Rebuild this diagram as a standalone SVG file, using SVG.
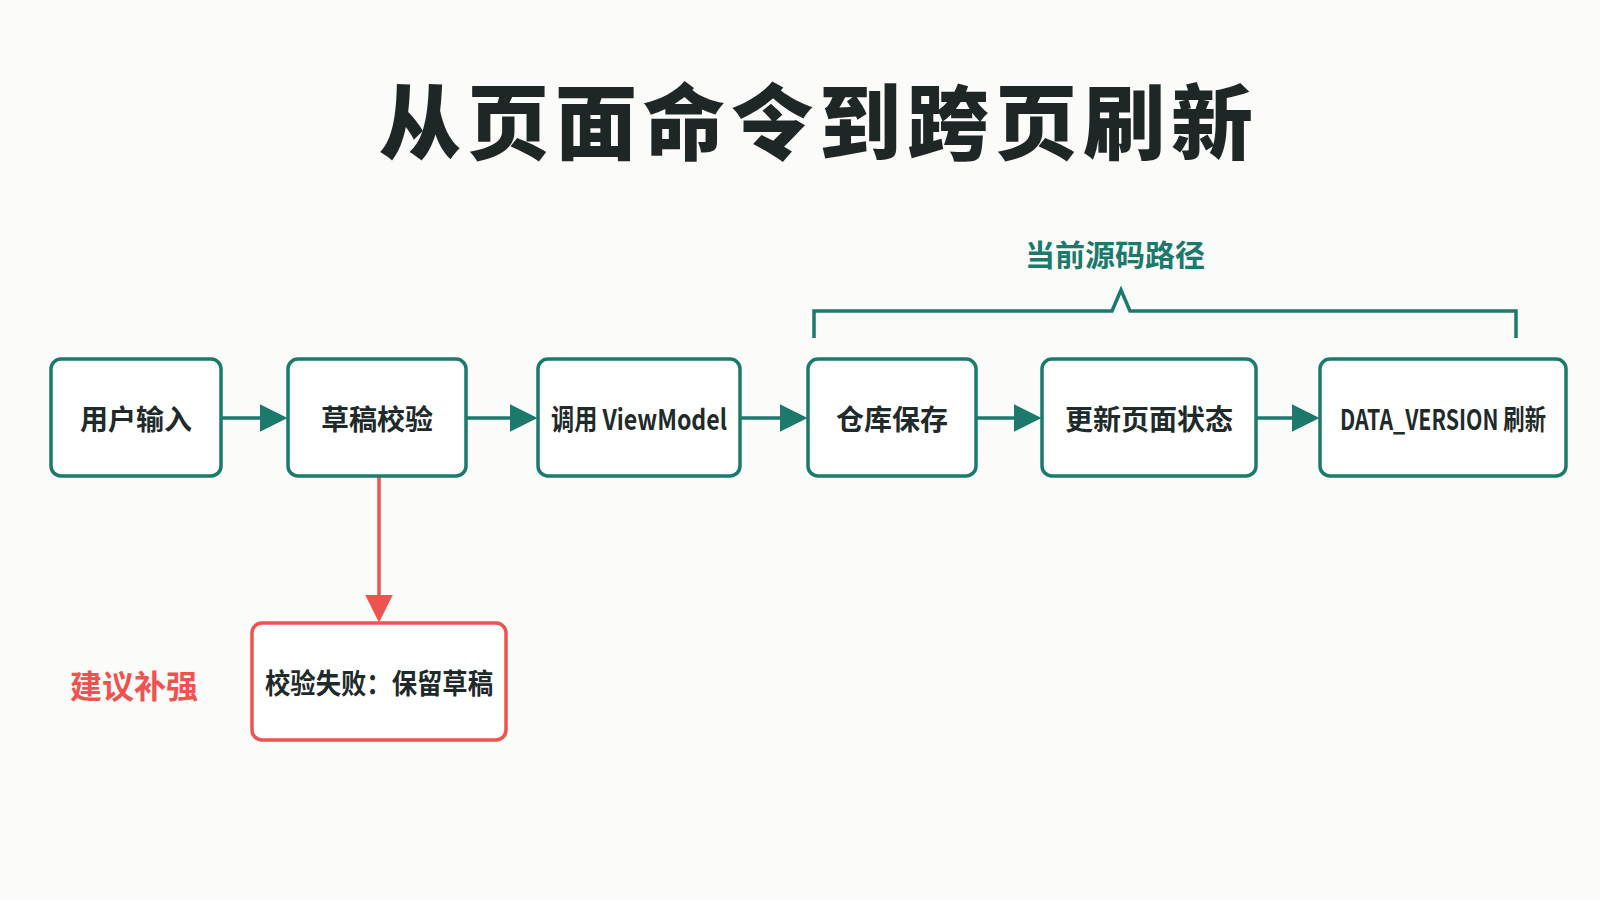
<svg xmlns="http://www.w3.org/2000/svg" width="1600" height="900" viewBox="0 0 1600 900">
<defs>
<style>
.n{fill:#fff;stroke:#1b7a6c;stroke-width:3.5}
.r{fill:#fff;stroke:#ef5350;stroke-width:3.5}
.t{font-family:"Noto Sans CJK SC","Liberation Sans",sans-serif;font-weight:700;font-size:28px;fill:#1f2a2a;text-anchor:middle;dominant-baseline:central}
.c{stroke:#1b7a6c;stroke-width:3.5;fill:none}
</style>
<marker id="a" markerWidth="8" markerHeight="8" refX="7" refY="4" orient="auto" markerUnits="strokeWidth"><path d="M0,0L8,4L0,8z" fill="#1b7a6c"/></marker>
<marker id="ar" markerWidth="8" markerHeight="8" refX="7" refY="4" orient="auto" markerUnits="strokeWidth"><path d="M0,0L8,4L0,8z" fill="#ef5350"/></marker>
</defs>
<rect width="1600" height="900" fill="#fbfbf9"/>
<text x="819" y="117" font-family="Noto Sans CJK SC,sans-serif" font-weight="900" font-size="82" fill="#1e2626" text-anchor="middle" dominant-baseline="central" letter-spacing="6">从页面命令到跨页刷新</text>
<g id="bracket">
<text x="1115" y="253" font-family="Noto Sans CJK SC,sans-serif" font-weight="700" font-size="30" fill="#1b7a6c" text-anchor="middle" dominant-baseline="central">当前源码路径</text>
<path class="c" d="M814,338V311H1112L1121,290L1130,311H1516V338"/>
</g>
<g id="connectors">
<line class="c" x1="221" y1="418" x2="284" y2="418" marker-end="url(#a)"/>
<line class="c" x1="466" y1="418" x2="534" y2="418" marker-end="url(#a)"/>
<line class="c" x1="740" y1="418" x2="804" y2="418" marker-end="url(#a)"/>
<line class="c" x1="976" y1="418" x2="1038" y2="418" marker-end="url(#a)"/>
<line class="c" x1="1256" y1="418" x2="1316" y2="418" marker-end="url(#a)"/>
<line x1="379" y1="476" x2="379" y2="619" stroke="#ef5350" stroke-width="3.5" marker-end="url(#ar)"/>
</g>
<g id="n1"><rect class="n" x="51" y="359" width="170" height="117" rx="10"/><text class="t" x="136" y="418">用户输入</text></g>
<g id="n2"><rect class="n" x="288" y="359" width="178" height="117" rx="10"/><text class="t" x="377" y="418">草稿校验</text></g>
<g id="n3"><rect class="n" x="538" y="359" width="202" height="117" rx="10"/><text class="t" x="639" y="418" font-size="26" textLength="176" lengthAdjust="spacingAndGlyphs">调用 ViewModel</text></g>
<g id="n4"><rect class="n" x="808" y="359" width="168" height="117" rx="10"/><text class="t" x="892" y="418">仓库保存</text></g>
<g id="n5"><rect class="n" x="1042" y="359" width="214" height="117" rx="10"/><text class="t" x="1149" y="418">更新页面状态</text></g>
<g id="n6"><rect class="n" x="1320" y="359" width="246" height="117" rx="10"/><text class="t" x="1443" y="418" font-size="25" textLength="206" lengthAdjust="spacingAndGlyphs">DATA_VERSION 刷新</text></g>
<g id="n7"><rect class="r" x="252" y="623" width="254" height="117" rx="10"/><text class="t" x="379" y="682" font-size="27" textLength="228" lengthAdjust="spacingAndGlyphs">校验失败：保留草稿</text></g>
<text x="134" y="684" font-family="Noto Sans CJK SC,sans-serif" font-weight="700" font-size="32" fill="#ef5350" text-anchor="middle" dominant-baseline="central">建议补强</text>
</svg>
